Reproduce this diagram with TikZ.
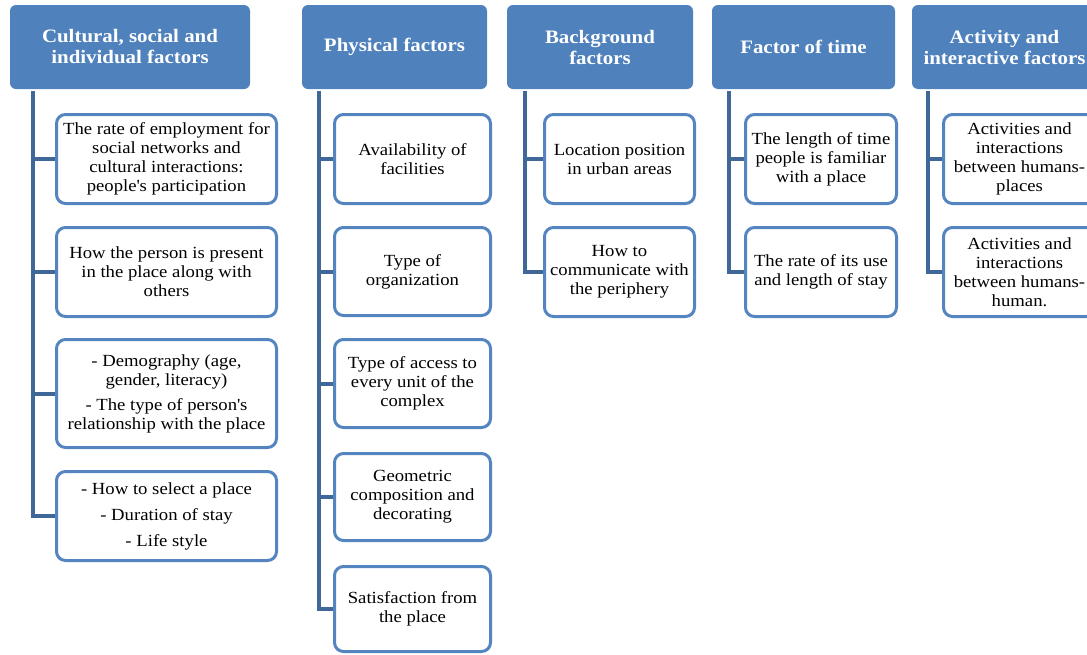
\documentclass[tikz,border=0pt]{standalone}
\usepackage{fontspec}
\setmainfont{Liberation Serif}[FakeStretch=1.1]
\definecolor{hdrblue}{HTML}{4F81BD}
\definecolor{trunkblue}{HTML}{3F6899}
\definecolor{boxblue}{HTML}{5585C0}
\tikzset{
  hdr/.style={draw=none, fill=hdrblue, rounded corners=6pt, text=white,
    font=\fontsize{19}{21}\selectfont\bfseries, align=center, inner sep=0pt,
    minimum height=84pt},
  sub/.style={draw=boxblue, line width=3pt, fill=white, rounded corners=9pt,
    font=\fontsize{17}{19}\selectfont, align=center, inner sep=0pt},
  trunk/.style={draw=trunkblue, line width=4pt},
}
\begin{document}
\begin{tikzpicture}[x=1pt,y=-1pt]
\clip (0,0) rectangle (1087,654);
\fill[white] (0,0) rectangle (1087,654);
% headers
\node[hdr, minimum width=240pt] (h1) at (130,47) {Cultural, social and\\individual factors};
\node[hdr, minimum width=185pt] (h2) at (394.5,47) {Physical factors};
\node[hdr, minimum width=186pt] (h3) at (600,47) {Background\\factors};
\node[hdr, minimum width=183pt] (h4) at (803.5,47) {Factor of time};
\node[hdr, minimum width=185pt] (h5) at (1004.5,47) {Activity and\\interactive factors};
% column 1
\node[sub, minimum width=220pt, minimum height=89pt] (a1) at (166.5,159) {The rate of employment for\\social networks and\\cultural interactions:\\people\textquotesingle s participation};
\node[sub, minimum width=220pt, minimum height=89pt] (a2) at (166.5,272) {How the person is present\\in the place along with\\others};
\node[sub, minimum width=220pt, minimum height=108pt] (a3) at (166.5,393.5) {- Demography (age,\\gender, literacy)\\[6pt]- The type of person\textquotesingle s\\relationship with the place};
\node[sub, minimum width=220pt, minimum height=89pt, font=\fontsize{17}{26}\selectfont] (a4) at (166.5,516) {- How to select a place\\- Duration of stay\\- Life style};
% column 2
\node[sub, minimum width=156pt, minimum height=89pt] (b1) at (412.5,159) {Availability of\\facilities};
\node[sub, minimum width=156pt, minimum height=88pt] (b2) at (412.5,271.5) {Type of\\organization};
\node[sub, minimum width=156pt, minimum height=88pt] (b3) at (412.5,383.5) {Type of access to\\every unit of the\\complex};
\node[sub, minimum width=156pt, minimum height=87pt] (b4) at (412.5,497) {Geometric\\composition and\\decorating};
\node[sub, minimum width=156pt, minimum height=85pt] (b5) at (412.5,609) {Satisfaction from\\the place};
% column 3
\node[sub, minimum width=150pt, minimum height=89pt] (c1) at (619.5,159) {Location position\\in urban areas};
\node[sub, minimum width=150pt, minimum height=89pt] (c2) at (619.5,272) {How to\\communicate with\\the periphery};
% column 4
\node[sub, minimum width=151pt, minimum height=89pt] (d1) at (821,159) {The length of time\\people is familiar\\with a place};
\node[sub, minimum width=151pt, minimum height=89pt] (d2) at (821,272) {The rate of its use\\and length of stay};
% column 5
\node[sub, minimum width=152pt, minimum height=89pt] (e1) at (1019.5,159) {Activities and\\interactions\\between humans-\\places};
\node[sub, minimum width=152pt, minimum height=89pt] (e2) at (1019.5,272) {Activities and\\interactions\\between humans-\\human.};
% trunks
\coordinate (t1) at (33,91);
\coordinate (t2) at (319,91);
\coordinate (t3) at (525,91);
\coordinate (t4) at (729,91);
\coordinate (t5) at (928,91);
\draw[trunk] (t1) |- (a4.west);
\foreach \n in {a1,a2,a3} \draw[trunk] (t1 |- \n.west) -- (\n.west);
\draw[trunk] (t2) |- (b5.west);
\foreach \n in {b1,b2,b3,b4} \draw[trunk] (t2 |- \n.west) -- (\n.west);
\draw[trunk] (t3) |- (c2.west);
\draw[trunk] (t3 |- c1.west) -- (c1.west);
\draw[trunk] (t4) |- (d2.west);
\draw[trunk] (t4 |- d1.west) -- (d1.west);
\draw[trunk] (t5) |- (e2.west);
\draw[trunk] (t5 |- e1.west) -- (e1.west);
\end{tikzpicture}
\end{document}
